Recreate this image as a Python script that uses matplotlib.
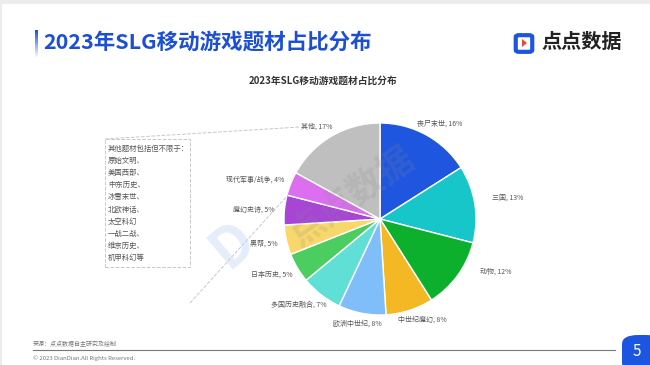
import matplotlib.pyplot as plt
import numpy as np
from matplotlib.patches import FancyBboxPatch, Rectangle, Polygon, Circle
from matplotlib.lines import Line2D
from matplotlib.colors import LinearSegmentedColormap

plt.rcParams['font.family'] = ['Noto Sans CJK SC', 'DejaVu Sans']

# data
categories = ['丧尸末世', '三国', '动物', '中世纪魔幻', '欧洲中世纪', '多国历史融合',
              '日本历史', '黑帮', '魔幻史诗', '现代军事/战争', '其他']
shares = [16, 13, 12, 8, 8, 7, 5, 5, 5, 4, 17]
colors = ['#1f56e0', '#17c6c9', '#0cb02c', '#f3b824', '#7fbef8', '#5fdfd5',
          '#4ccd60', '#f8d86b', '#a745d5', '#db6ff0', '#bfbfbf']
other_items = ['其他题材包括但不限于：', '原始文明、', '美国西部、', '中东历史、', '冰雪末世、',
               '北欧神话、', '太空科幻', '一战二战、', '维京历史、', '机甲科幻等']

W, H = 650, 365
fig = plt.figure(figsize=(W / 100, H / 100), dpi=100)


def px(x, y):
    return x / W, 1 - y / H


# faint slide frame
fig.add_artist(Rectangle((0, 1 - 4 / H), 1, 4 / H, transform=fig.transFigure,
                         fc='#ececec', ec='none'))
fig.add_artist(Rectangle((0, 0), 2 / W, 1, transform=fig.transFigure,
                         fc='#ececec', ec='none'))

# header
fig.text(*px(43, 42), '2023年SLG移动游戏题材占比分布', color='#1c4fd4',
         fontsize=15.5, fontweight='bold', va='center', ha='left')
bar_ax = fig.add_axes([35 / W, 1 - 58 / H, 2.5 / W, 28 / H])
grad = np.linspace(1, 0, 100).reshape(-1, 1)
bar_ax.imshow(grad, aspect='auto', vmin=0, vmax=1,
              cmap=LinearSegmentedColormap.from_list('g', ['#ffffff', '#1c4fd4']))
bar_ax.axis('off')

# logo
fig.add_artist(FancyBboxPatch(px(519, 50), 10 / W, 13 / H, boxstyle='round,pad=0.005',
                              transform=fig.transFigure, fc='none', ec='#1c56e0', lw=3))
fig.add_artist(Polygon([px(522, 39), px(522, 47), px(527, 43)], closed=True,
                       transform=fig.transFigure, fc='#e8483a', ec='none'))
fig.text(*px(541, 41), '点点数据', fontsize=14.5, fontweight='bold', color='#222222',
         va='center', ha='left')

# chart title
fig.text(*px(323, 81), '2023年SLG移动游戏题材占比分布', fontsize=7, fontweight='bold',
         color='#333333', ha='center', va='center')

# pie
cx, cy, r = 380, 219, 96
ax = fig.add_axes([(cx - r) / W, (H - cy - r) / H, 2 * r / W, 2 * r / H])
labels = [f'{c}, {v}%' for c, v in zip(categories, shares)]
wedges, texts = ax.pie(shares, colors=colors, startangle=90, counterclock=False,
                       labels=labels,
                       wedgeprops=dict(edgecolor='white', linewidth=1),
                       textprops=dict(fontsize=5, color='#555555'))
ax.set_xlim(-1, 1)
ax.set_ylim(-1, 1)
ax.set_aspect('equal')

# label centres (pixels), placed like the original layout
label_xy = [(440, 124), (508, 198), (496, 272), (422, 320), (357, 324), (299, 305),
            (272, 275), (264, 244), (254, 210), (255, 180), (317, 127)]
for t, (lx, ly) in zip(texts, label_xy):
    t.set_transform(fig.transFigure)
    t.set_position(px(lx, ly))
    t.set_ha('center')
    t.set_va('center')

# watermark
fig.text(*px(352, 196), '点点数据', fontsize=26, fontweight='bold', color='#888888',
         alpha=0.18, rotation=35, ha='center', va='center')
fig.text(*px(232, 243), 'D', fontsize=40, fontweight='bold', color='#c9d8f5',
         alpha=0.45, rotation=40, ha='center', va='center')

# callout box for "其他"
fig.add_artist(Rectangle(px(105, 267), 85 / W, 128 / H, transform=fig.transFigure,
                         fc='none', ec='#c8c8c8', lw=0.7, ls='--'))
fig.add_artist(Line2D([105 / W, 300 / W], [1 - 139 / H, 1 - 127 / H],
                      transform=fig.transFigure, color='#c8c8c8', lw=0.7, ls='--'))
fig.add_artist(Line2D([190 / W, 288 / W], [1 - 303 / H, 1 - 195 / H],
                      transform=fig.transFigure, color='#c8c8c8', lw=0.7, ls='--'))
for i, t in enumerate(other_items):
    fig.text(*px(108, 149 + i * 12.1), t, fontsize=5.3, color='#555555',
             ha='left', va='center')

# footer
fig.text(*px(33, 344), '来源：点点数据自主研究及绘制', fontsize=4.3, color='#777777',
         ha='left', va='center')
fig.add_artist(Line2D([33 / W, 615 / W], [1 - 350 / H, 1 - 350 / H],
                      transform=fig.transFigure, color='#777777', lw=0.8))
fig.text(*px(33, 358), '© 2023 DianDian.All Rights Reserved.', fontsize=4.3, color='#777777',
         ha='left', va='center')
fig.add_artist(FancyBboxPatch(px(622, 372), 40 / W, 37 / H,
                              boxstyle='round,pad=0,rounding_size=0.025',
                              transform=fig.transFigure, fc='#1c56e0', ec='none'))
fig.text(*px(637, 352), '5', fontsize=11, color='white', style='italic',
         ha='center', va='center')

fig.savefig('out.png', dpi=100)
